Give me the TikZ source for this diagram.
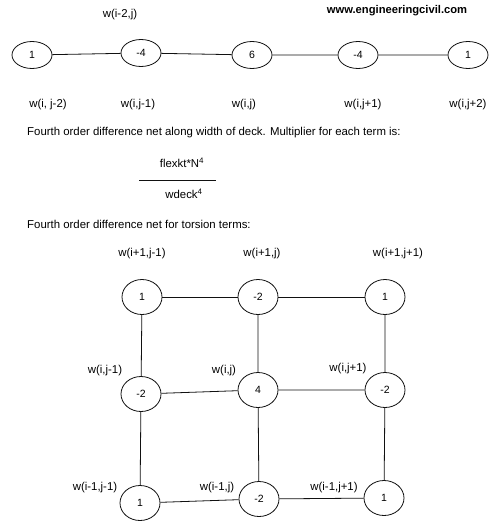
\documentclass[tikz,border=0pt]{standalone}
\usepackage{fontspec}
\setmainfont{Liberation Sans}
\usepackage{tikz}
\usetikzlibrary{shapes.geometric}
\definecolor{inkx}{HTML}{111111}
\tikzset{
  nd/.style={ellipse,draw=inkx,thick,minimum width=40pt,minimum height=27pt,inner sep=0pt,font=\fontsize{10.5}{12}\selectfont},
  ndg/.style={nd,minimum height=35pt},
  lbl/.style={inner sep=0pt,font=\fontsize{11.4}{13}\selectfont},
  ln/.style={thick,inkx}
}
\begin{document}
\begin{tikzpicture}[x=1pt,y=-1pt]
\useasboundingbox (0,0) rectangle (499,525);
% header
\node[lbl,font=\fontsize{11.2}{13}\bfseries] (web) at (397,11) {www.engineeringcivil.com};
\node[lbl] (wtop) at (120,15) {w(i-2,j)};
% width net
\node[nd] (a1) at (32,55) {1};
\node[nd] (a2) at (141,53) {-4};
\node[nd] (a3) at (252,55) {6};
\node[nd] (a4) at (358,55) {-4};
\node[nd] (a5) at (468,55) {1};
\draw[ln] (a1)--(a2)--(a3)--(a4)--(a5);
\node[lbl] (la1) at (48,105) {w(i, j-2)};
\node[lbl] (la2) at (138,105) {w(i,j-1)};
\node[lbl] (la3) at (244,105) {w(i,j)};
\node[lbl] (la4) at (363,105) {w(i,j+1)};
\node[lbl] (la5) at (468,105) {w(i,j+2)};
% multiplier
\node[lbl,anchor=west] (t1) at (27,133) {Fourth order difference net along width of deck. Multiplier for each term is:};
\node[lbl] (num) at (182,163) {flexkt*N\textsuperscript{4}};
\coordinate (fl) at (139,180);
\coordinate (fr) at (216,180);
\draw[ln,thin] (fl)--(fr);
\node[lbl] (den) at (184,194) {wdeck\textsuperscript{4}};
\node[lbl,anchor=west] (t2) at (27,224) {Fourth order difference net for torsion terms:};
% torsion net
\node[lbl] (lb1) at (142,254) {w(i+1,j-1)};
\node[lbl] (lb2) at (262,254) {w(i+1,j)};
\node[lbl] (lb3) at (398,254) {w(i+1,j+1)};
\node[ndg] (b1) at (142,297) {1};
\node[ndg] (b2) at (258,297) {-2};
\node[ndg] (b3) at (385,297) {1};
\node[lbl] (lc1) at (105,371) {w(i,j-1)};
\node[lbl] (lc2) at (224,371) {w(i,j)};
\node[lbl] (lc3) at (348,369) {w(i,j+1)};
\node[ndg] (c1) at (141,394) {-2};
\node[ndg] (c2) at (258,390) {4};
\node[ndg] (c3) at (385,390) {-2};
\node[lbl] (ld1) at (95,488) {w(i-1,j-1)};
\node[lbl] (ld2) at (217,488) {w(i-1,j)};
\node[lbl] (ld3) at (334,488) {w(i-1,j+1)};
\node[ndg] (d1) at (140,503) {1};
\node[ndg] (d2) at (259,499) {-2};
\node[ndg] (d3) at (384,498) {1};
\draw[ln] (b1)--(b2)--(b3);
\draw[ln] (c1)--(c2)--(c3);
\draw[ln] (d1)--(d2)--(d3);
\draw[ln] (b1)--(c1)--(d1);
\draw[ln] (b2)--(c2)--(d2);
\draw[ln] (b3)--(c3)--(d3);
\end{tikzpicture}
\end{document}
